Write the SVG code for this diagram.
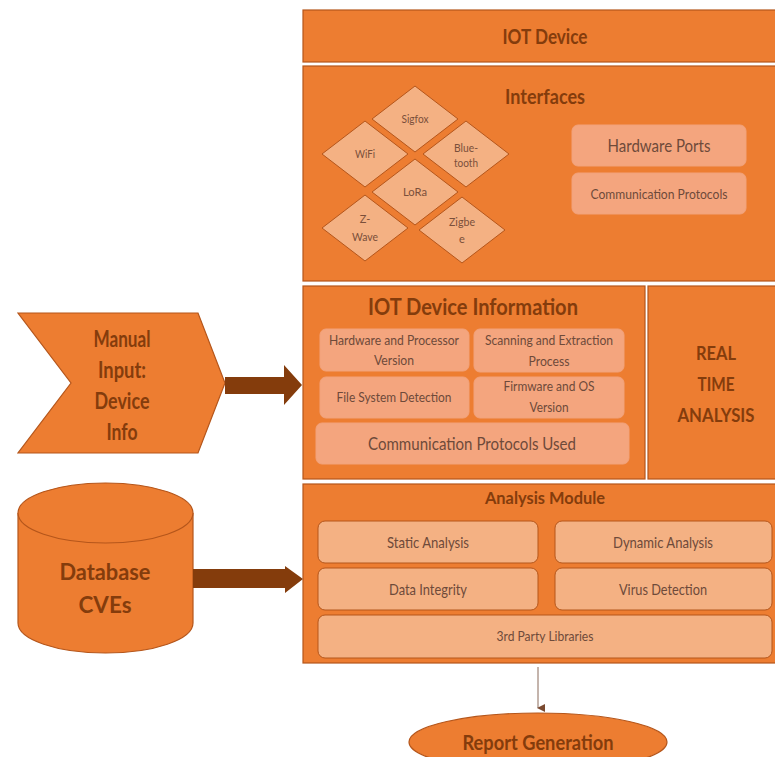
<svg xmlns="http://www.w3.org/2000/svg" width="775" height="757" viewBox="0 0 775 757">
<defs>
<style>
.main{fill:#ED7D31;stroke:#B5561B;stroke-width:1.2}
.dia{fill:#F4B183;stroke:#B5561B;stroke-width:1}
.inner{fill:#F4A57E;stroke:#F2A27A;stroke-width:1}
.sub{fill:#F4B183;stroke:#B5561B;stroke-width:1}
text{font-family:Lato,"Liberation Sans",sans-serif;text-anchor:middle}
.t{fill:#843C0C;font-weight:bold}
.s{fill:#6E4A3A}
.d{fill:#7A4F3A;font-size:11px}
</style>
<marker id="ah" markerWidth="8" markerHeight="8" refX="4" refY="7" orient="auto" markerUnits="userSpaceOnUse">
<path d="M0,0 L8,0 L4,8 Z" fill="#7A4A30"/>
</marker>
</defs>
<rect width="775" height="757" fill="#fff"/>

<g id="iot-device">
<rect class="main" x="303" y="10" width="474" height="52"/>
<text class="t" x="545" y="44" font-size="21" textLength="85" lengthAdjust="spacingAndGlyphs">IOT Device</text>
</g>

<g id="interfaces">
<rect class="main" x="303" y="66" width="474" height="215"/>
<text class="t" x="545" y="104" font-size="20" textLength="80" lengthAdjust="spacingAndGlyphs">Interfaces</text>
<g id="sigfox"><polygon class="dia" points="415,86 458,119 415,152 372,119"/><text class="d" x="415" y="123" textLength="27" lengthAdjust="spacingAndGlyphs">Sigfox</text></g>
<g id="wifi"><polygon class="dia" points="365,121 408,154 365,187 322,154"/><text class="d" x="365" y="158" textLength="20" lengthAdjust="spacingAndGlyphs">WiFi</text></g>
<g id="bluetooth"><polygon class="dia" points="466,121 509,154 466,187 423,154"/><text class="d" x="466" y="152" textLength="24" lengthAdjust="spacingAndGlyphs">Blue-</text><text class="d" x="466" y="167" textLength="24" lengthAdjust="spacingAndGlyphs">tooth</text></g>
<g id="lora"><polygon class="dia" points="415,159 458,192 415,225 372,192"/><text class="d" x="415" y="196" textLength="24" lengthAdjust="spacingAndGlyphs">LoRa</text></g>
<g id="zwave"><polygon class="dia" points="365,195 408,228 365,261 322,228"/><text class="d" x="365" y="223">Z-</text><text class="d" x="365" y="241" textLength="26" lengthAdjust="spacingAndGlyphs">Wave</text></g>
<g id="zigbee"><polygon class="dia" points="462,197 505,230 462,263 419,230"/><text class="d" x="462" y="226" textLength="26" lengthAdjust="spacingAndGlyphs">Zigbe</text><text class="d" x="462" y="243">e</text></g>
<g id="hardware-ports"><rect class="inner" x="572" y="125" width="174" height="41" rx="6"/><text class="s" x="659" y="152" font-size="17" textLength="103" lengthAdjust="spacingAndGlyphs">Hardware Ports</text></g>
<g id="comm-protocols"><rect class="inner" x="572" y="173" width="174" height="41" rx="6"/><text class="s" x="659" y="199" font-size="13" textLength="137" lengthAdjust="spacingAndGlyphs">Communication Protocols</text></g>
</g>

<g id="iot-info">
<rect class="main" x="303" y="286" width="342" height="193"/>
<text class="t" x="473" y="315" font-size="23" textLength="210" lengthAdjust="spacingAndGlyphs">IOT Device Information</text>
<g id="hw-proc"><rect class="inner" x="320" y="329" width="149" height="42" rx="6"/><text class="s" x="394" y="345" font-size="14" textLength="130" lengthAdjust="spacingAndGlyphs">Hardware and Processor</text><text class="s" x="394" y="365" font-size="14" textLength="40" lengthAdjust="spacingAndGlyphs">Version</text></g>
<g id="scanning"><rect class="inner" x="474" y="329" width="150" height="43" rx="6"/><text class="s" x="549" y="345" font-size="14" textLength="128" lengthAdjust="spacingAndGlyphs">Scanning and Extraction</text><text class="s" x="549" y="366" font-size="14" textLength="41" lengthAdjust="spacingAndGlyphs">Process</text></g>
<g id="filesystem"><rect class="inner" x="320" y="377" width="149" height="41" rx="6"/><text class="s" x="394" y="402" font-size="14" textLength="115" lengthAdjust="spacingAndGlyphs">File System Detection</text></g>
<g id="firmware"><rect class="inner" x="474" y="377" width="150" height="41" rx="6"/><text class="s" x="549" y="391" font-size="14" textLength="91" lengthAdjust="spacingAndGlyphs">Firmware and OS</text><text class="s" x="549" y="412" font-size="14" textLength="39" lengthAdjust="spacingAndGlyphs">Version</text></g>
<g id="comm-used"><rect class="inner" x="316" y="423" width="313" height="41" rx="6"/><text class="s" x="472" y="450" font-size="18" textLength="208" lengthAdjust="spacingAndGlyphs">Communication Protocols Used</text></g>
</g>

<g id="real-time">
<rect class="main" x="648" y="286" width="129" height="193"/>
<text class="t" x="716" y="360" font-size="19" textLength="40" lengthAdjust="spacingAndGlyphs">REAL</text>
<text class="t" x="716" y="391" font-size="19" textLength="37" lengthAdjust="spacingAndGlyphs">TIME</text>
<text class="t" x="716" y="422" font-size="19" textLength="77" lengthAdjust="spacingAndGlyphs">ANALYSIS</text>
</g>

<g id="analysis-module">
<rect class="main" x="303" y="484" width="474" height="179"/>
<text class="t" x="545" y="504" font-size="17" textLength="120" lengthAdjust="spacingAndGlyphs">Analysis Module</text>
<g id="static"><rect class="sub" x="318" y="521" width="220" height="42" rx="7"/><text class="s" x="428" y="548" font-size="15" textLength="82" lengthAdjust="spacingAndGlyphs">Static Analysis</text></g>
<g id="dynamic"><rect class="sub" x="555" y="521" width="217" height="42" rx="7"/><text class="s" x="663" y="548" font-size="15" textLength="100" lengthAdjust="spacingAndGlyphs">Dynamic Analysis</text></g>
<g id="integrity"><rect class="sub" x="318" y="568" width="220" height="42" rx="7"/><text class="s" x="428" y="595" font-size="15" textLength="78" lengthAdjust="spacingAndGlyphs">Data Integrity</text></g>
<g id="virus"><rect class="sub" x="555" y="568" width="217" height="42" rx="7"/><text class="s" x="663" y="595" font-size="15" textLength="88" lengthAdjust="spacingAndGlyphs">Virus Detection</text></g>
<g id="third-party"><rect class="sub" x="318" y="615" width="454" height="43" rx="7"/><text class="s" x="545" y="641" font-size="13" textLength="97" lengthAdjust="spacingAndGlyphs">3rd Party Libraries</text></g>
</g>

<g id="manual-input">
<polygon class="main" points="18,313 198,313 225,383 198,453 18,453 71,383"/>
<text class="t" x="122" y="347" font-size="22" textLength="57" lengthAdjust="spacingAndGlyphs">Manual</text>
<text class="t" x="122" y="378" font-size="22" textLength="48" lengthAdjust="spacingAndGlyphs">Input:</text>
<text class="t" x="122" y="409" font-size="22" textLength="55" lengthAdjust="spacingAndGlyphs">Device</text>
<text class="t" x="122" y="440" font-size="22" textLength="31" lengthAdjust="spacingAndGlyphs">Info</text>
</g>

<g id="database">
<path class="main" d="M18,513 L18,623 A87.5,30 0 0 0 193,623 L193,513"/>
<ellipse class="main" cx="105.5" cy="513" rx="87.5" ry="30"/>
<text class="t" x="105" y="580" font-size="23" textLength="91" lengthAdjust="spacingAndGlyphs">Database</text>
<text class="t" x="105" y="613" font-size="23" textLength="53" lengthAdjust="spacingAndGlyphs">CVEs</text>
</g>

<g id="report">
<ellipse class="main" cx="538" cy="742" rx="129" ry="29"/>
<text class="t" x="538" y="750" font-size="21" textLength="151" lengthAdjust="spacingAndGlyphs">Report Generation</text>
</g>

<g id="connectors">
<polygon fill="#843C0C" points="225,377 284,377 284,365 302,385 284,405 284,394 225,394"/>
<polygon fill="#843C0C" points="193,569 285,569 285,566 303,579 285,593 285,588 193,588"/>
<line x1="538" y1="667" x2="538" y2="708" stroke="#8A6A5A" stroke-width="1" marker-end="url(#ah)"/>
</g>
</svg>
